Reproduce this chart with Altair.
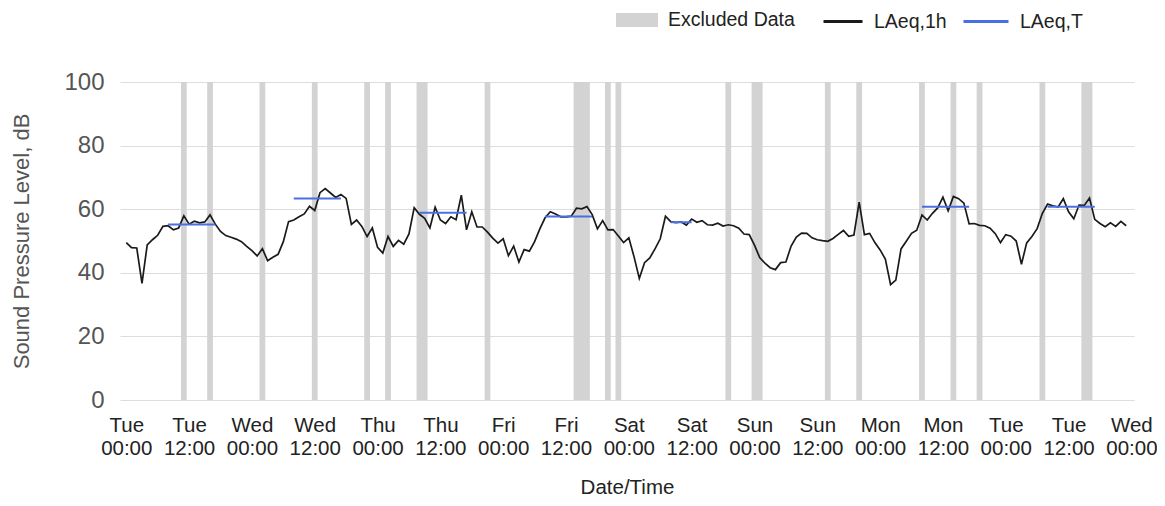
import json
import altair as alt
import pandas as pd

# ---------------- data ----------------
laeq_1h = [
    49.5, 47.9, 47.8, 36.7, 48.8, 50.4, 51.8, 54.6, 54.8, 53.5, 54.1, 57.9,
    55.3, 56.2, 55.7, 56.0, 58.2, 55.3, 53.0, 51.7, 51.2, 50.6, 49.8, 48.3,
    47.0, 45.3, 47.6, 43.8, 44.9, 45.8, 49.8, 56.1, 56.6, 57.6, 58.5, 60.9,
    59.6, 65.2, 66.5, 65.1, 63.7, 64.6, 63.4, 55.2, 56.6, 54.6, 51.4, 54.1,
    48.0, 46.2, 51.4, 48.3, 50.2, 49.0, 52.2, 60.5, 58.4, 57.1, 54.1, 60.6,
    56.6, 55.5, 57.6, 56.7, 64.4, 53.5, 59.2, 54.4, 54.4, 52.8, 50.9, 49.3,
    50.7, 45.4, 48.4, 43.4, 47.3, 46.8, 49.8, 53.8, 57.3, 59.2, 58.5, 57.6,
    57.6, 57.8, 60.3, 60.1, 60.8, 58.3, 53.8, 56.4, 53.5, 53.6, 51.6, 49.5,
    51.0, 45.0, 38.2, 43.2, 44.7, 47.5, 50.7, 57.8, 56.1, 55.8, 56.0, 55.0,
    56.9, 55.9, 56.4, 55.1, 55.0, 55.6, 54.7, 55.1, 54.8, 54.0, 52.2, 52.0,
    48.7, 44.8, 43.0, 41.6, 41.0, 43.2, 43.4, 48.4, 51.2, 52.5, 52.4, 51.0,
    50.4, 50.1, 49.9, 50.8, 52.1, 53.3, 51.5, 51.9, 62.2, 52.0, 52.4, 49.5,
    47.2, 44.3, 36.3, 37.7, 47.5, 49.9, 52.4, 53.4, 58.2, 56.6, 58.7, 60.4,
    63.8, 59.5, 64.0, 63.3, 61.9, 55.4, 55.5, 54.9, 54.8, 54.0, 52.3, 49.5,
    52.0, 51.5, 50.0, 42.7, 49.4, 51.4, 53.9, 58.7, 61.6, 61.1, 60.7, 63.3,
    59.2, 57.0, 61.3, 61.2, 63.5, 56.8, 55.5, 54.5, 55.7, 54.6, 56.2, 54.8,
]
hours = list(range(len(laeq_1h)))  # hours after Tue 00:00

excluded_hours = [11, 16, 26, 36, 46, 50, 56, 57, 69, 86, 87, 88, 92, 94,
                  115, 120, 121, 134, 140, 152, 158, 163, 175, 183, 184]

laeq_t_start = [8, 32, 56, 80, 104, 152, 176]
laeq_t_end = [17, 41, 65, 89, 108, 161, 185]
laeq_t_value = [55.2, 63.4, 58.9, 57.7, 55.9, 60.8, 60.8]

tick_hours = [0, 12, 24, 36, 48, 60, 72, 84, 96, 108, 120, 132, 144, 156, 168, 180, 192]
tick_days = ["Tue", "Tue", "Wed", "Wed", "Thu", "Thu", "Fri", "Fri", "Sat",
             "Sat", "Sun", "Sun", "Mon", "Mon", "Tue", "Tue", "Wed"]
tick_times = ["00:00", "12:00"] * 8 + ["00:00"]

y_ticks = [0, 20, 40, 60, 80, 100]

excluded_name = ["Excluded Data"]
excluded_color = ["#d3d3d3"]
line_name = ["LAeq,1h"]
line_color = ["#1a1a1a"]
t_name = ["LAeq,T"]
t_color = ["#4a6fe3"]

# ---------------- tables ----------------
FONT = "Liberation Sans"
x_domain = [-1.2, 192.5]
y_domain = [y_ticks[0], y_ticks[-1]]

line_df = pd.DataFrame({"hour": hours, "value": laeq_1h, "series": line_name[0]})
excl_df = pd.DataFrame({
    "x0": [h - 0.55 for h in excluded_hours],
    "x1": [h + 0.55 for h in excluded_hours],
    "lo": y_domain[0], "hi": y_domain[1],
    "excl": excluded_name[0],
})
t_df = pd.DataFrame({"start": laeq_t_start, "end": laeq_t_end,
                     "value": laeq_t_value, "tseries": t_name[0]})

label_arr = json.dumps([[d, t] for d, t in zip(tick_days, tick_times)])
x_label_expr = f"{label_arr}[indexof({json.dumps(tick_hours)}, datum.value)]"

x_axis = alt.Axis(
    values=tick_hours, labelExpr=x_label_expr, labelOverlap=False, labelFlush=False,
    labelFont=FONT, labelFontSize=20.5, labelColor="#222222", labelLineHeight=23.5,
    labelPadding=15, ticks=False, domain=False, grid=False,
    title="Date/Time", titleFont=FONT, titleFontSize=20.5, titleFontWeight="normal",
    titleColor="#222222", titleY=87.5, titleBaseline="middle",
)
y_axis = alt.Axis(
    values=y_ticks, labelFont=FONT, labelFontSize=24, labelColor="#555555",
    labelPadding=16, ticks=False, domain=False, grid=True, gridColor="#dddddd",
    title="Sound Pressure Level, dB", titleFont=FONT, titleFontSize=22,
    titleFontWeight="normal", titleColor="#555555", titleX=-99, titleY=159,
    titleAlign="center", titleBaseline="middle", titleAngle=270,
)
x_scale = alt.Scale(domain=x_domain, nice=False, zero=False)
y_scale = alt.Scale(domain=y_domain, nice=False)


def legend_at(x, y, shape, size, stroke_width):
    return alt.Legend(
        title=None, orient="none", direction="horizontal", legendX=x, legendY=y,
        symbolType=shape, symbolSize=size, symbolStrokeWidth=stroke_width,
        symbolOpacity=1, labelFont=FONT, labelFontSize=19.5, labelColor="#222222",
        labelOffset=10,
    )


fill = alt.Fill("excl:N", scale=alt.Scale(domain=excluded_name, range=excluded_color),
                legend=legend_at(496, -83, "M-1,-0.33H1V0.33H-1Z", 1764, 0))
stroke_line = alt.Stroke("series:N", scale=alt.Scale(domain=line_name, range=line_color),
                         legend=legend_at(702, -81.5, "stroke", 1521, 3))
stroke_t = alt.Stroke("tseries:N", scale=alt.Scale(domain=t_name, range=t_color),
                      legend=legend_at(842, -84.5, "stroke", 2025, 3))

bars = alt.Chart(excl_df).mark_rect(opacity=1, strokeWidth=0).encode(
    x=alt.X("x0:Q", scale=x_scale, axis=x_axis),
    x2="x1:Q",
    y=alt.Y("lo:Q", scale=y_scale, axis=y_axis),
    y2="hi:Q",
    fill=fill,
)
line = alt.Chart(line_df).mark_line(strokeWidth=1.7).encode(
    x=alt.X("hour:Q", scale=x_scale, axis=x_axis),
    y=alt.Y("value:Q", scale=y_scale, axis=y_axis),
    stroke=stroke_line,
)
rules = alt.Chart(t_df).mark_rule(strokeWidth=2).encode(
    x=alt.X("start:Q", scale=x_scale, axis=x_axis),
    x2="end:Q",
    y=alt.Y("value:Q", scale=y_scale, axis=y_axis),
    stroke=stroke_t,
)

chart = alt.layer(bars, line, rules).resolve_scale(
    stroke="independent"
).resolve_legend(
    stroke="independent"
).properties(
    width=1014, height=318,
    padding={"left": 112, "top": 74, "right": 23, "bottom": 98},
    autosize=alt.AutoSizeParams(type="none"),
).configure_view(stroke=None)

chart.save("out.html", embed_options={"renderer": "svg", "actions": False})
